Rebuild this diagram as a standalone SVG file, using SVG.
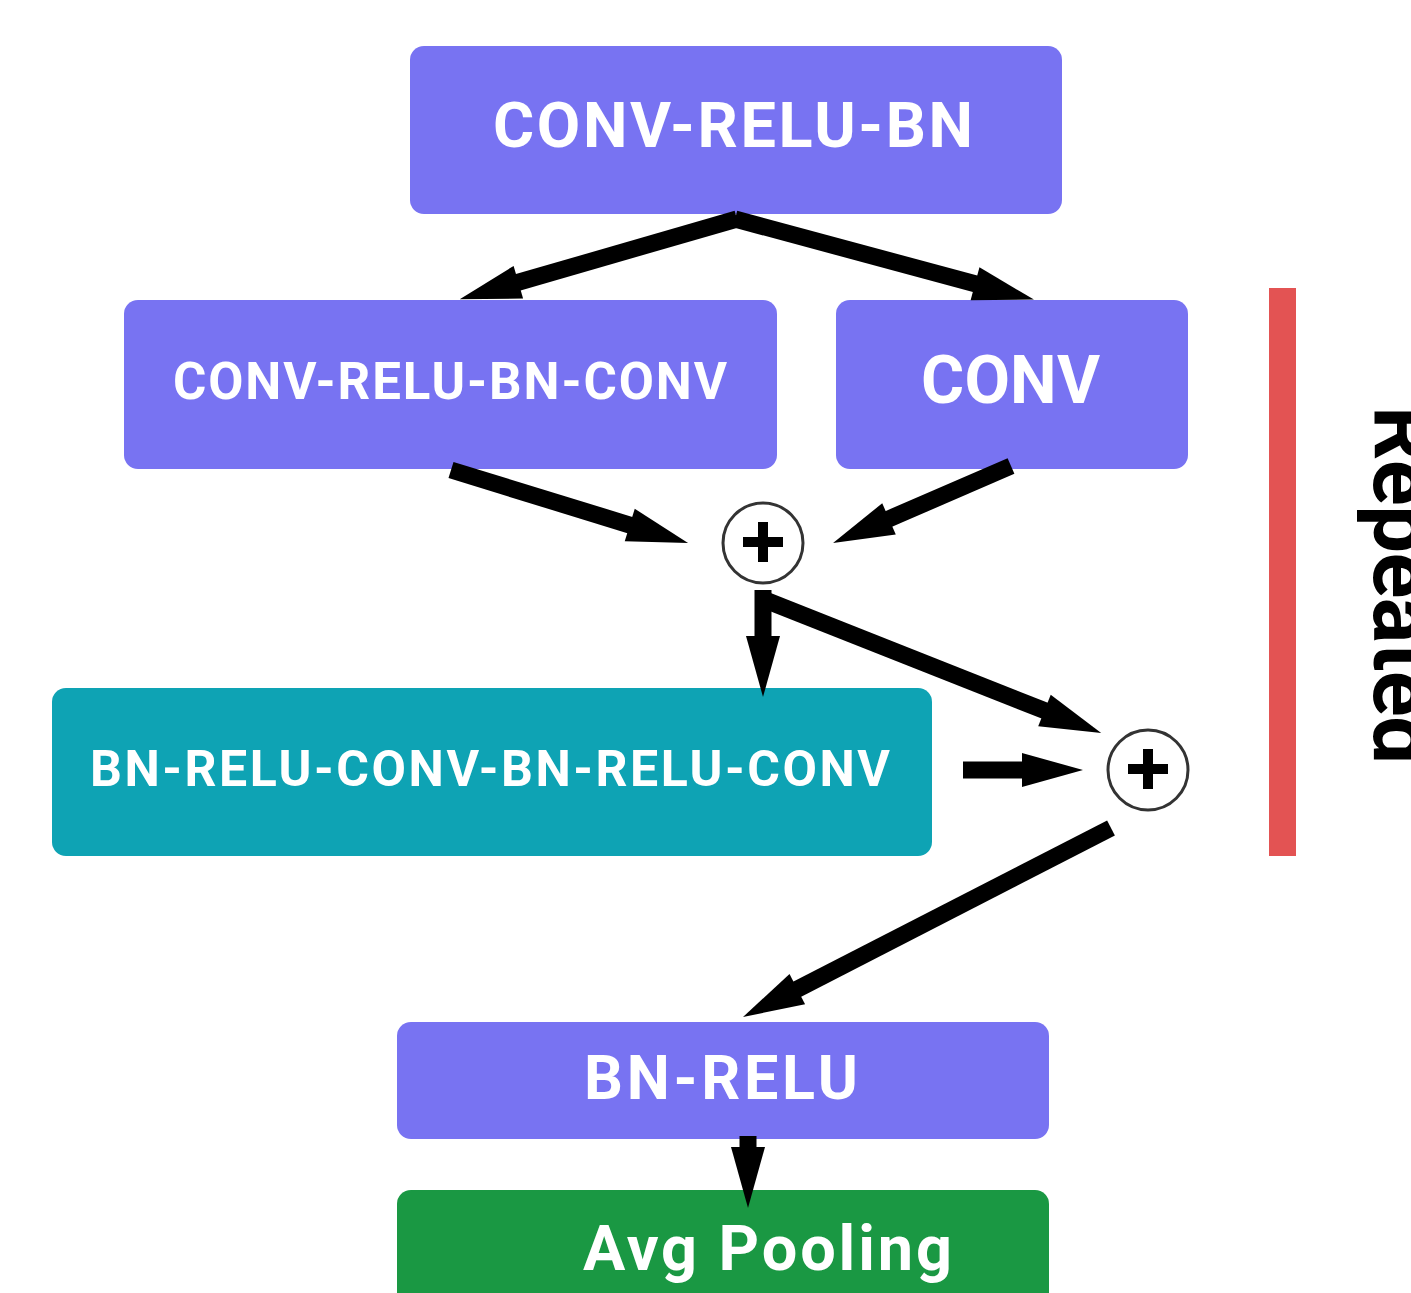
<svg xmlns="http://www.w3.org/2000/svg" width="1411" height="1293" viewBox="0 0 1411 1293">
  <style>
    .purple { fill: #7873F2; }
    .teal { fill: #0EA3B4; }
    .green { fill: #1A9843; }
    .lbl { font-family: Roboto, "Liberation Sans", sans-serif; font-weight: 700; fill: #FFFFFF; text-anchor: middle; }
    .edge { stroke: #000000; stroke-width: 17; fill: none; stroke-linecap: butt; marker-end: url(#head); }
    .sum circle { fill: #FFFFFF; stroke: #333333; stroke-width: 3; }
    .sum rect { fill: #000000; }
  </style>
  <defs>
    <marker id="head" markerUnits="userSpaceOnUse" markerWidth="70" markerHeight="40" viewBox="-2 -20 66 40" refX="0" refY="0" orient="auto">
      <path d="M-1,-17 L60,0 L-1,17 Z" fill="#000000"/>
    </marker>
  </defs>

  <rect width="1411" height="1293" fill="#FFFFFF"/>

  <!-- layer blocks -->
  <g id="node-conv-relu-bn">
    <rect class="purple" x="410" y="46" width="652" height="168" rx="14"/>
    <text class="lbl" x="733" y="147" font-size="63" textLength="480" lengthAdjust="spacing">CONV-RELU-BN</text>
  </g>
  <g id="node-conv-relu-bn-conv">
    <rect class="purple" x="124" y="300" width="653" height="169" rx="14"/>
    <text class="lbl" x="450" y="399" font-size="51" textLength="554" lengthAdjust="spacing">CONV-RELU-BN-CONV</text>
  </g>
  <g id="node-conv">
    <rect class="purple" x="836" y="300" width="352" height="169" rx="14"/>
    <text class="lbl" x="1010.5" y="403" font-size="66" textLength="179" lengthAdjust="spacing">CONV</text>
  </g>
  <g id="node-bn-relu-conv-x2">
    <rect class="teal" x="52" y="688" width="880" height="168" rx="14"/>
    <text class="lbl" x="490" y="786" font-size="50" textLength="800" lengthAdjust="spacing">BN-RELU-CONV-BN-RELU-CONV</text>
  </g>
  <g id="node-bn-relu">
    <rect class="purple" x="397" y="1022" width="652" height="117" rx="14"/>
    <text class="lbl" x="721" y="1099" font-size="61" textLength="274" lengthAdjust="spacing">BN-RELU</text>
  </g>
  <g id="node-avg-pooling">
    <rect class="green" x="397" y="1190" width="652" height="140" rx="14"/>
    <text class="lbl" x="767.5" y="1270" font-size="63" textLength="369" lengthAdjust="spacing">Avg Pooling</text>
  </g>

  <!-- element-wise sums -->
  <g id="node-add-1" class="sum">
    <circle cx="763" cy="543" r="40"/>
    <rect x="743" y="537" width="40" height="10"/>
    <rect x="758" y="522" width="10" height="40"/>
  </g>
  <g id="node-add-2" class="sum">
    <circle cx="1148" cy="770" r="40"/>
    <rect x="1128" y="764" width="40" height="10"/>
    <rect x="1143" y="749" width="10" height="40"/>
  </g>

  <!-- repeat marker -->
  <g id="repeat-bracket">
    <rect x="1269" y="288" width="27" height="568" fill="#E35353"/>
    <text x="1374" y="406" transform="rotate(90 1374 406)" font-family="Roboto, 'Liberation Sans', sans-serif" font-weight="700" font-size="85" fill="#000000" textLength="358" lengthAdjust="spacing">Repeated</text>
  </g>

  <!-- connectors -->
  <g id="connectors">
    <path class="edge" d="M737,219 L517.4,282.5"/>
    <path class="edge" d="M735,219 L976,284"/>
    <path class="edge" d="M451,470 L630.7,525.3"/>
    <path class="edge" d="M1011,466 L888.1,519.2"/>
    <path class="edge" d="M763,590 L763,637"/>
    <path class="edge" d="M760,598 L1045.4,710.9"/>
    <path class="edge" d="M963,770 L1023,770"/>
    <path class="edge" d="M1111,828 L796.4,989.6"/>
    <path class="edge" d="M748,1136 L748,1148"/>
  </g>
</svg>
